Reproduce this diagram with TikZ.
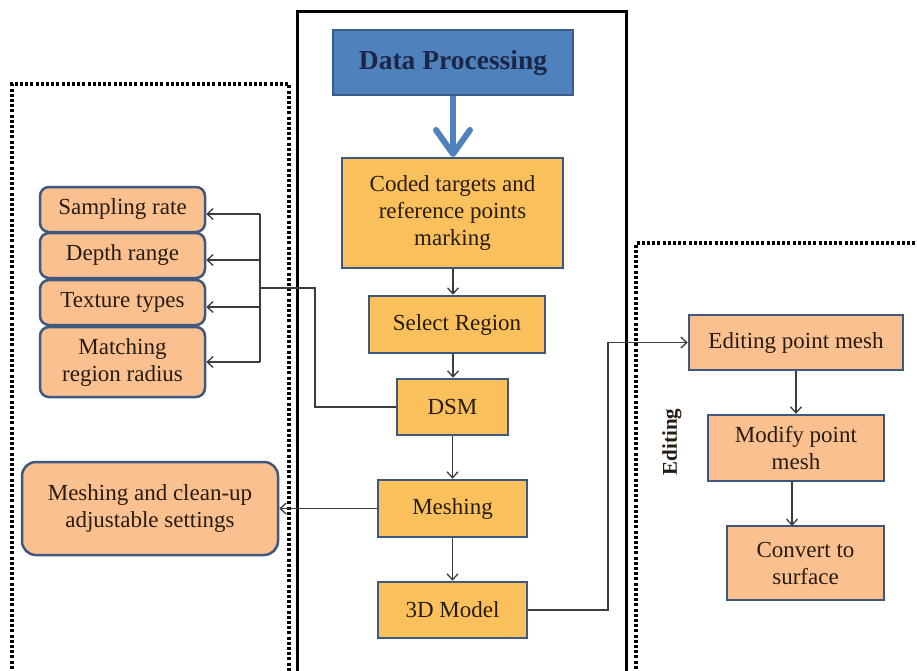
\documentclass[tikz,border=0pt]{standalone}
\usepackage{fontspec}
\setmainfont{Liberation Serif}
\usetikzlibrary{arrows.meta,positioning}
\definecolor{midfill}{RGB}{250,192,92}
\definecolor{sidefill}{RGB}{250,192,143}
\definecolor{edge}{RGB}{63,88,128}
\definecolor{bluefill}{RGB}{79,129,189}
\definecolor{blueedge}{RGB}{56,93,138}
\definecolor{txt}{RGB}{40,28,16}
\definecolor{conn}{RGB}{60,60,60}
\tikzset{
  midbox/.style={draw=edge,line width=2.5pt,fill=midfill,inner sep=0pt,text=txt,align=center,font=\fontsize{23}{27}\selectfont},
  sidebox/.style={draw=edge,line width=2.5pt,fill=sidefill,inner sep=0pt,text=txt,align=center,font=\fontsize{23}{27}\selectfont},
  roundbox/.style={sidebox,rounded corners=9pt},
  conline/.style={draw=conn,line width=1.5pt},
  conarrow/.style={conline,-{Straight Barb[length=6pt,width=11pt,line width=1.3pt]}},
  dotbox/.style={line width=3.2pt,dash pattern=on 3pt off 2.2pt},
}
\begin{document}
\begin{tikzpicture}[x=1pt,y=-1pt]
\useasboundingbox (0,0) rectangle (917,671);
\fill[white] (0,0) rectangle (917,671);
\clip (0,0) rectangle (917,671);
% frames
\draw[dotbox] (12,700) -- (12,84) -- (289,84) -- (289,700);
\draw[line width=3pt] (297,700) -- (297,12) -- (626,12) -- (626,700);
\draw[dotbox] (636,700) -- (636,243) -- (930,243);
% central column
\node[draw=blueedge,line width=2.5pt,fill=bluefill,minimum width=240pt,minimum height=65pt,inner sep=0pt,
  font=\bfseries\fontsize{27.5}{30}\selectfont,text={rgb,255:red,28;green,38;blue,70}] (dp) at (453,62.5) {Data Processing};
\node[midbox,minimum width=221pt,minimum height=110pt] (ct) at (452.5,213) {Coded targets and\\reference points\\marking};
\node[midbox,minimum width=176pt,minimum height=57pt] (sr) at (457,324.5) {Select Region};
\node[midbox,minimum width=111pt,minimum height=56pt] (dsm) at (452.5,407) {DSM};
\node[midbox,minimum width=149pt,minimum height=57pt] (mesh) at (452.5,508.5) {Meshing};
\node[midbox,minimum width=149pt,minimum height=56pt] (model) at (452.5,610) {3D Model};
% left column
\node[roundbox,minimum width=165pt,minimum height=45pt] (samp) at (122.5,209.5) {Sampling rate};
\node[roundbox,minimum width=165pt,minimum height=45pt] (depth) at (122.5,255.5) {Depth range};
\node[roundbox,minimum width=165pt,minimum height=45pt] (tex) at (122.5,302.5) {Texture types};
\node[roundbox,minimum width=165pt,minimum height=70pt] (match) at (122.5,362) {Matching\\region radius};
\node[roundbox,minimum width=256pt,minimum height=93pt,rounded corners=14pt] (clean) at (150,508.5) {Meshing and clean-up\\adjustable settings};
% right column
\node[sidebox,minimum width=214pt,minimum height=55pt] (edit) at (796,342.5) {Editing point mesh};
\node[sidebox,minimum width=176pt,minimum height=66pt] (modify) at (796,448) {Modify point\\mesh};
\node[sidebox,minimum width=157pt,minimum height=74pt] (convert) at (805.5,563) {Convert to\\surface};
\node[rotate=90,font=\bfseries\fontsize{21}{24}\selectfont,text=txt] (editlbl) at (672,442) {Editing};
% blue arrow
\draw[draw=bluefill,line width=5.5pt,-{Straight Barb[length=24pt,width=34pt,line width=6pt,round]}] (dp.south) -- (453,157);
% central arrows
\draw[conarrow] (ct.south -| 453,0) -- (sr.north -| 453,0);
\draw[conarrow] (sr.south -| 453,0) -- (dsm.north -| 453,0);
\draw[conarrow] (dsm.south) -- (mesh.north);
\draw[conarrow] (mesh.south) -- (model.north);
% DSM to parameter boxes
\coordinate (bus) at (260,288);
\draw[conline] (dsm.west) -- (315,407) -- (315,288) -- (bus);
\draw[conline] (260,214) -- (260,362);
\draw[conarrow] (260,214) -- (samp.east |- 260,214);
\draw[conarrow] (260,260) -- (depth.east |- 260,260);
\draw[conarrow] (260,307) -- (tex.east |- 260,307);
\draw[conarrow] (260,362) -- (match.east |- 260,362);
% meshing to settings
\draw[conarrow] (mesh.west) -- (clean.east);
% 3D model to editing
\draw[conarrow] (model.east) -- (608,610) -- (608,342.5) -- (edit.west);
\draw[conarrow] (edit.south) -- (modify.north);
\draw[conarrow] (792,481) -- (792,526);
\end{tikzpicture}
\end{document}
